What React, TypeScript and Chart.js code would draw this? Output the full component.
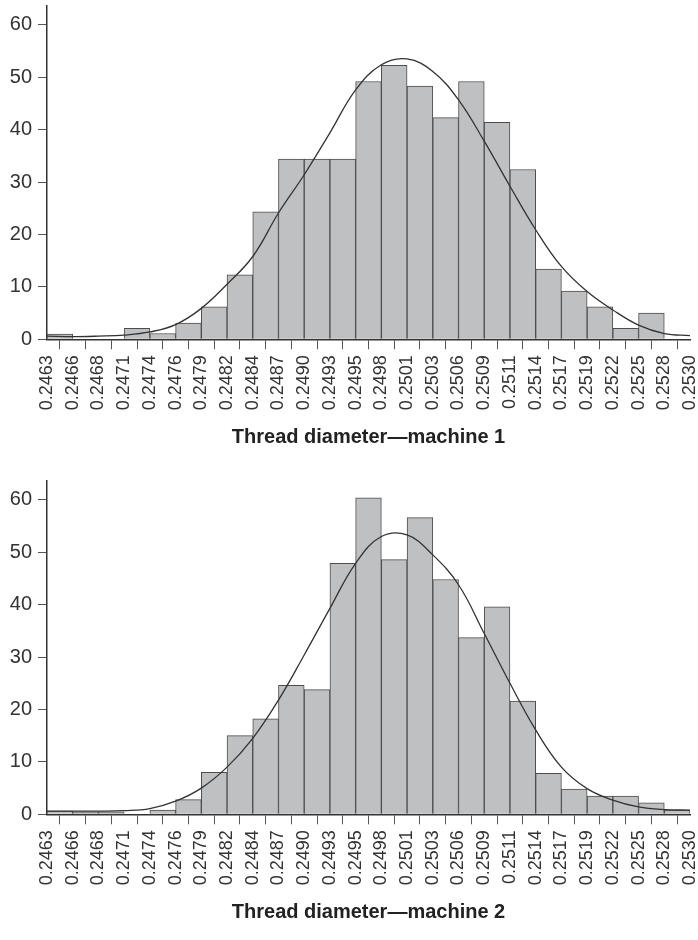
import React, { useEffect, useRef } from "react";
import { Chart, registerables } from "chart.js";

Chart.register(...registerables);

const edgeLabels = [
  "0.2463", "0.2466", "0.2468", "0.2471", "0.2474", "0.2476", "0.2479", "0.2482", "0.2484",
  "0.2487", "0.2490", "0.2493", "0.2495", "0.2498", "0.2501", "0.2503", "0.2506", "0.2509",
  "0.2511", "0.2514", "0.2517", "0.2519", "0.2522", "0.2525", "0.2528", "0.2530",
];

const machine1Counts = [
  1, 0, 0, 2.1, 1.1, 3.1, 6.2, 12.3, 24.3, 34.4, 34.4, 34.4, 49.2, 52.3, 48.3, 42.3, 49.2, 41.4,
  32.4, 13.4, 9.2, 6.2, 2.1, 5.0, 0,
];
const machine1Curve = [
  0.6, 0.5, 0.6, 0.8, 1.4, 2.8, 5.9, 10.5, 15.8, 24.1, 31.4, 39.4, 47.6, 52.4, 53.5, 51.1, 45.7,
  37.8, 29.2, 20.9, 13.9, 9.1, 5.6, 2.7, 1.1, 0.7,
];

const machine2Counts = [
  0.6, 0.45, 0.45, 0, 0.8, 2.8, 8.0, 15.0, 18.2, 24.6, 23.8, 47.9, 60.4, 48.6, 56.6, 44.8, 33.7,
  39.6, 21.6, 7.8, 4.8, 3.5, 3.5, 2.2, 0.8,
];
const machine2Curve = [
  0.6, 0.6, 0.6, 0.7, 1.1, 2.5, 5.0, 9.0, 14.5, 21.8, 30.4, 39.3, 47.9, 53.0, 53.3, 49.5, 43.8,
  34.5, 25.0, 16.1, 9.0, 4.9, 2.7, 1.4, 0.9, 0.8,
];

const titles = ["Thread diameter\u2014machine 1", "Thread diameter\u2014machine 2"];
const yTicks = [0, 10, 20, 30, 40, 50, 60];

const FONT = "'Liberation Sans', Arial, Helvetica, sans-serif";
const W = 698;
const H = 465;

function Histogram({ counts, curve, title }: { counts: number[]; curve: number[]; title: string }) {
  const ref = useRef<HTMLCanvasElement | null>(null);
  useEffect(() => {
    if (!ref.current) return;
    const chart = new Chart(ref.current, {
      type: "bar",
      data: {
        datasets: [
          {
            type: "line",
            data: curve.map((v, i) => ({ x: i, y: v })),
            borderColor: "#333",
            borderWidth: 1.3,
            pointRadius: 0,
            fill: false,
            tension: 0.4,
            order: 0,
          } as any,
          {
            type: "bar",
            data: counts.map((v, i) => ({ x: i + 0.5, y: v })),
            backgroundColor: "#bfc0c2",
            borderColor: "#4d4d4d",
            borderWidth: 1,
            barPercentage: 1,
            categoryPercentage: 1,
            order: 1,
          } as any,
        ],
      },
      options: {
        animation: false,
        responsive: false,
        events: [],
        layout: { padding: { top: 6, right: 8, left: 0, bottom: 0 } },
        plugins: { legend: { display: false }, tooltip: { enabled: false } },
        scales: {
          x: {
            type: "linear",
            min: 0,
            max: edgeLabels.length - 1,
            offset: false,
            afterFit: (s: any) => {
              s.height = H - 339.3;
              s.paddingLeft = 0;
              s.paddingRight = 0;
            },
            afterBuildTicks: (s: any) => {
              s.ticks = edgeLabels.map((_, i) => ({ value: i }));
            },
            grid: {
              display: true,
              drawOnChartArea: false,
              drawTicks: true,
              tickLength: 10,
              tickColor: "#555",
              tickWidth: 1,
            },
            border: { display: true, color: "#333", width: 1.5 },
            ticks: {
              autoSkip: false,
              maxRotation: 90,
              minRotation: 90,
              padding: 6,
              color: "#333",
              font: { family: FONT, size: 18 },
              callback: (v: any) => edgeLabels[Math.round(Number(v))] ?? "",
            },
            title: {
              display: true,
              text: title,
              color: "#222",
              font: { family: FONT, size: 20, weight: "bold" },
              padding: { top: 0, bottom: 16 },
            },
          },
          y: {
            type: "linear",
            min: 0,
            max: 63.6,
            afterFit: (s: any) => {
              s.width = 47;
              s.paddingTop = 0;
              s.paddingBottom = 0;
            },
            afterBuildTicks: (s: any) => {
              s.ticks = yTicks.map((v) => ({ value: v }));
            },
            grid: {
              display: true,
              drawOnChartArea: false,
              drawTicks: true,
              tickLength: 9,
              tickColor: "#555",
              tickWidth: 1,
            },
            border: { display: true, color: "#333", width: 1.5 },
            ticks: {
              padding: 6,
              color: "#333",
              font: { family: FONT, size: 20 },
              callback: (v: any) => String(v),
            },
          },
        },
      } as any,
    });
    return () => chart.destroy();
  }, [counts, curve, title]);
  return <canvas ref={ref} width={W} height={H} style={{ width: W, height: H, display: "block" }} />;
}

export default function App() {
  return (
    <div style={{ position: "absolute", left: 0, top: 0, width: W, height: 940, background: "#fff", overflow: "hidden" }}>
      <div style={{ position: "absolute", left: 0, top: 0 }}>
        <Histogram counts={machine1Counts} curve={machine1Curve} title={titles[0]} />
      </div>
      <div style={{ position: "absolute", left: 0, top: 475 }}>
        <Histogram counts={machine2Counts} curve={machine2Curve} title={titles[1]} />
      </div>
    </div>
  );
}
